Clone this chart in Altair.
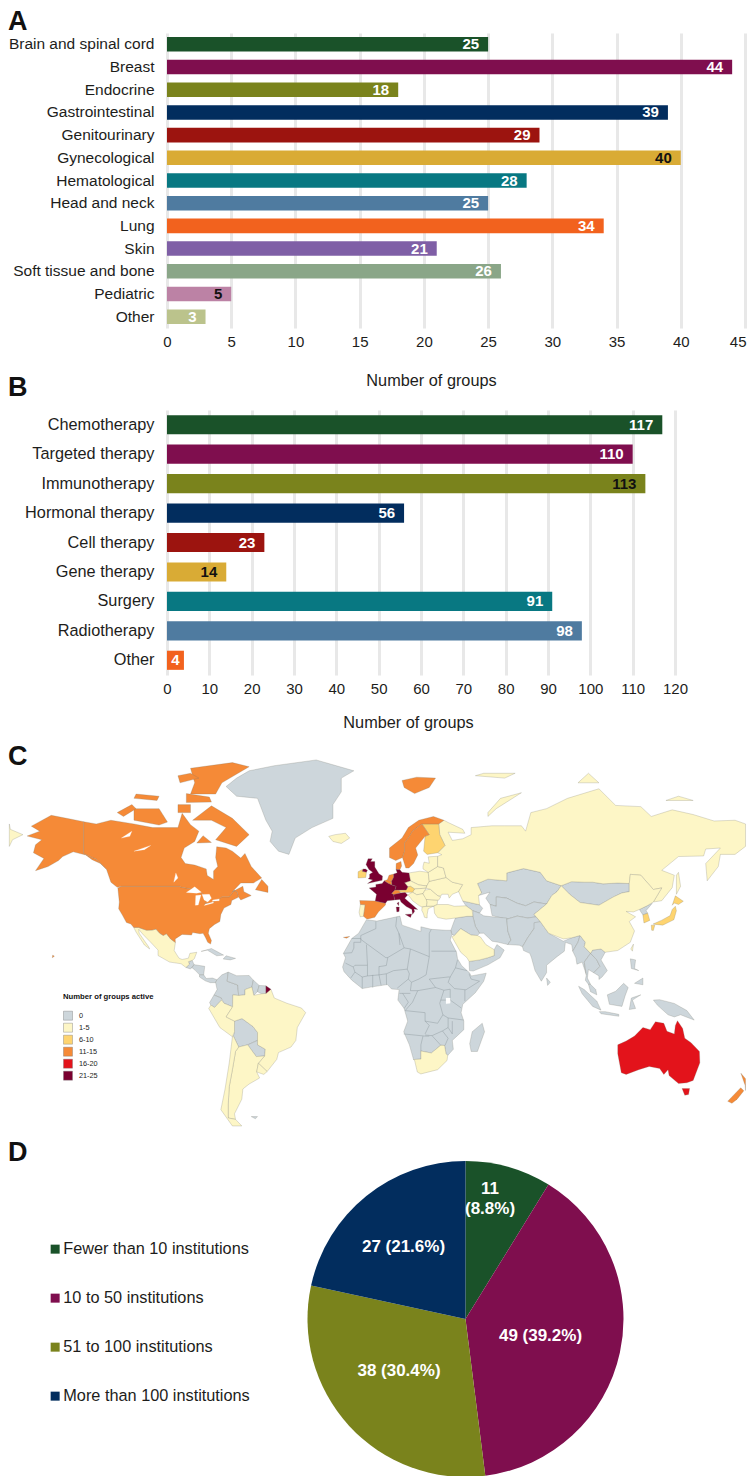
import math
import altair as alt

FONT = "Liberation Sans"
TXT = "#1d1d1b"

# ---------- panel A ----------
a_cats = ["Brain and spinal cord", "Breast", "Endocrine", "Gastrointestinal", "Genitourinary",
          "Gynecological", "Hematological", "Head and neck", "Lung", "Skin",
          "Soft tissue and bone", "Pediatric", "Other"]
a_vals = [25, 44, 18, 39, 29, 40, 28, 25, 34, 21, 26, 5, 3]
a_cols = ["#1A5229", "#7F0E4E", "#7A831C", "#022D5E", "#9C140F", "#D9AB35", "#087882",
          "#4F7BA0", "#F2621E", "#7F5FA6", "#8AA688", "#BC82A5", "#BBC38C"]
a_txt = ["white", "white", "white", "white", "white", "#111111", "white", "white", "white",
         "white", "white", "#111111", "white"]

# ---------- panel B ----------
b_cats = ["Chemotherapy", "Targeted therapy", "Immunotherapy", "Hormonal therapy", "Cell therapy",
          "Gene therapy", "Surgery", "Radiotherapy", "Other"]
b_vals = [117, 110, 113, 56, 23, 14, 91, 98, 4]
b_cols = a_cols[:9]
b_txt = ["white", "white", "#111111", "white", "white", "#111111", "white", "white", "white"]

# ---------- panel D ----------
d_cats = ["Fewer than 10 institutions", "10 to 50 institutions", "51 to 100 institutions",
          "More than 100 institutions"]
d_vals = [11, 49, 38, 27]
d_cols = ["#1A5229", "#7F0E4E", "#7A831C", "#022D5E"]
d_labels = [["11", "(8.8%)"], "49 (39.2%)", "38 (30.4%)", "27 (21.6%)"]

# ---------- panel C: coarse country outlines in lon/lat ----------
map_bins = ["0", "1-5", "6-10", "11-15", "16-20", "21-25"]
map_cols = ["#CDD6DB", "#FDF6C6", "#FED470", "#F58A37", "#E3131B", "#7A0030"]

orange = {
 "usa": [(-124.7,48.4),(-123,49),(-95.2,49),(-94.6,48.7),(-89.6,48),(-84.8,46.5),(-82.5,45.3),(-82.4,43),(-83.1,42.2),(-79,42.8),(-79,43.3),(-76.5,44),(-75,45),(-71.5,45),(-69.2,47.4),(-67.8,47),(-67,44.9),(-70.3,43.6),(-70.7,42),(-74,40.6),(-75.5,38),(-76,35),(-78.5,33.8),(-81,32),(-81.5,30),(-80,26.8),(-80.4,25.2),(-81.8,26),(-82.8,28),(-84,30),(-85.5,29.8),(-89,30.3),(-89.5,29.2),(-94,29.5),(-97.3,27.5),(-97.2,25.9),(-99.5,27.5),(-101.5,29.8),(-103,29),(-104.7,30),(-106.5,31.8),(-108.2,31.4),(-111,31.3),(-114.8,32.5),(-117.1,32.5),(-118.5,34),(-120.6,34.6),(-122.4,37.5),(-124.3,40.3),(-124,43)],
 "alaska": [(-141,69.6),(-141,60.3),(-137,59),(-135,58.5),(-130,55),(-133,57),(-137,58.3),(-140,59.8),(-146,60.8),(-151,59.3),(-153,58),(-158,56),(-164,54.6),(-160,58.7),(-165,60.5),(-164,63),(-161,64.5),(-168,65.6),(-162,67),(-166,68.4),(-156.5,71.3),(-148,70.4)],
 "canada": [(-141,69.6),(-135,69),(-128,70),(-117,69),(-108,68),(-96,68),(-94,71.8),(-90,68.8),(-86,67),(-88,64),(-93,62),(-94.5,59),(-92.5,57),(-88,56.5),(-82.5,55.2),(-82,52.9),(-79,51.5),(-79,54.5),(-77,56),(-78,59),(-77.5,62.4),(-73,62),(-70,61),(-66,58.8),(-64,60.3),(-61,56),(-56,52),(-60,50.2),(-66,50.2),(-70,47),(-65,49),(-64.5,47),(-61,45.5),(-66,43.8),(-67,44.9),(-67.8,47),(-69.2,47.4),(-71.5,45),(-75,45),(-76.5,44),(-79,43.3),(-79,42.8),(-83.1,42.2),(-82.4,43),(-82.5,45.3),(-84.8,46.5),(-89.6,48),(-94.6,48.7),(-95.2,49),(-123,49),(-125,48.6),(-128,50.5),(-130,54.8),(-130,55),(-135,58.5),(-137,59),(-141,60.3)],
 "baffin": [(-62,66),(-68,62.5),(-78,64.5),(-73,68),(-80,70),(-89,70),(-80,73.7),(-70,70.5)],
 "victoria": [(-117,70),(-105,68.7),(-101,69.5),(-105,73),(-117,73)],
 "banks": [(-125,72),(-118,74),(-116,73),(-122,71)],
 "ellesmere": [(-90,76.5),(-78,76.5),(-75,79),(-62,82.3),(-70,83.1),(-90,82),(-88,79)],
 "devon": [(-92,74.5),(-80,74.6),(-81,75.8),(-92,76.6)],
 "melville": [(-117,75.5),(-106,75),(-105,76),(-116,76.5)],
 "heiberg": [(-95,79),(-86,80),(-90,81),(-96,80.5)],
 "somerset": [(-96,72),(-90,72),(-90,74),(-96,74)],
 "newfoundland": [(-59,47.7),(-53,46.7),(-53,49),(-56,51.5)],
 "southampton": [(-87,63.5),(-80,63.7),(-84,65.7)],
 "hawaii": [(-156,19),(-155,19.7),(-155.8,20.2)],
 "spain": [(-9.2,43.6),(-8.9,42),(-6.6,41.9),(-7,39.6),(-7.4,37.2),(-6,36.2),(-5.3,36.1),(-2,36.8),(-0.3,39),(3.1,41.8),(3.1,42.5),(-1.8,43.4)],
 "canary": [(-17,28.2),(-14,28.6),(-15.5,27.8)],
 "belgium": [(2.5,51),(4.5,50),(6.2,49.5),(6,50.8),(4,51.4)],
 "netherlands": [(4,51.4),(6,50.8),(7,52.3),(7,53.4),(4.8,53)],
 "denmark": [(8.1,55),(10,54.9),(10.8,56.2),(10.5,57.7),(8.2,57)],
 "switzerland": [(6,46.3),(7,45.9),(10.3,46.5),(9.6,47.5),(7.6,47.6)],
 "norway": [(5,59),(5,62),(11,65),(14,68),(19,70),(26,71),(31,70),(28.5,69),(25,69),(20.5,69),(16,67),(14,65),(12.2,63.5),(12.2,61),(11.2,59),(8,58)],
 "sweden": [(11.2,59),(12.2,61),(12.2,63.5),(14,65),(16,67),(20.5,69),(24,66),(22,65.5),(17.5,62),(18.5,59.8),(16.5,57),(14.3,55.5),(12.8,55.5)],
 "svalbard": [(12,78),(17,76.6),(24,78),(27,80),(18,80.2),(11,79.5)],
 "nz_n": [(172.8,-34.5),(175.7,-36.8),(178.4,-37.7),(176.9,-39.5),(175.2,-41.6),(174.8,-39.5)],
 "nz_s": [(172.7,-40.5),(174.2,-41.7),(171,-45),(168.5,-46.6),(166.5,-45.8)],
}
maroon = {
 "uk": [(-5.5,50),(1.5,51.2),(1.7,52.7),(0,53.5),(-2,55.8),(-2,57.7),(-4,57.7),(-3.2,58.6),(-5.2,58.6),(-6.2,56.7),(-4.8,55),(-3,54),(-4.5,53.3),(-4.5,52.2),(-5.2,51.7),(-3,51.3)],
 "n_ireland": [(-8,54.4),(-6,54),(-5.5,54.7),(-6.5,55.2),(-7.5,55.2)],
 "france": [(-1.8,43.4),(3.1,42.5),(4,43.5),(7.5,43.8),(7,45.9),(6,46.3),(7.6,47.6),(8.2,49),(6.2,49.5),(4.5,50),(2.5,51),(1.5,50),(-1.5,49.7),(-1.5,48.7),(-4.7,48.4),(-1.2,46)],
 "corsica": [(8.6,42.5),(9.5,43),(9.4,41.5)],
 "germany": [(6,50.8),(6.2,49.5),(8.2,49),(7.6,47.6),(13,47.6),(13.8,48.8),(12.2,50.3),(15,51),(14.3,53.8),(11,54),(10,54.9),(8.1,55),(8.7,53.9),(7,53.4),(7,52.3)],
 "italy": [(7,45.9),(7.5,43.8),(10,44),(10.5,43),(13,41.2),(15.7,40),(16,38),(17,39.2),(16.7,40.2),(18.5,40),(16,41.8),(13.6,43.5),(12.3,44.5),(13.7,45.7),(12.5,46.7),(10.3,46.5)],
 "sicily": [(12.5,38),(15.6,38.2),(15.1,36.7)],
 "sardinia": [(8.2,41),(9.7,41),(9.6,39.2),(8.5,39)],
 "fr_guiana": [(-54,2.2),(-51.6,4.2),(-54,5.8)],
}
mid = {
 "ireland": [(-10,52),(-6.3,52.2),(-6,54),(-8,54.4),(-7.5,55.2),(-10,54.2)],
 "finland": [(20.5,69),(25,69),(28.5,69),(29,66),(31.5,62.8),(28,60.5),(23,60),(21.3,61),(22,65.5),(24,66)],
 "austria": [(9.6,47.5),(10.3,46.8),(12.5,46.7),(16,46.8),(17,48),(15,49),(13.8,48.8),(13,47.6)],
 "honshu": [(130.9,34),(135,35.6),(139,37.5),(140,40),(141.5,41.3),(142,39.5),(140.8,35.8),(139,35),(135.5,33.5),(132,33.8)],
 "kyushu": [(130,33.5),(131.7,33.5),(131,31.2),(130.2,31.3)],
 "hokkaido": [(140,41.7),(141.5,45.4),(145.3,43.3),(143,42),(141,42.6)],
 "s_korea": [(126,37.8),(128.3,38.5),(129.3,35.5),(126.5,34.4)],
}
red = {
 "australia": [(114,-22),(114,-26),(115.7,-34.3),(118,-35),(124,-33),(129,-31.6),(134,-32.5),(136,-35),(138,-33),(138.5,-35.5),(143,-38.8),(147,-38.5),(150,-37.5),(153.2,-30),(153,-25),(149,-21),(146,-19),(145,-14.5),(142.5,-10.8),(141.5,-13),(141,-17),(137.5,-15.8),(136,-12),(132,-11.3),(129.5,-15),(126,-14),(122,-18),(118,-20.3)],
 "tasmania": [(144.7,-40.8),(148.3,-40.8),(147.8,-43.2),(146,-43.5)],
}
pale = {
 "iceland": [(-24,65.5),(-22,64),(-18,63.4),(-14,65),(-16,66.4),(-21,66)],
 "mexico": [(-117.1,32.5),(-114.8,32.5),(-111,31.3),(-108.2,31.4),(-106.5,31.8),(-104.7,30),(-103,29),(-101.5,29.8),(-99.5,27.5),(-97.2,25.9),(-97.8,22.3),(-95.5,18.8),(-94,18.2),(-91,18.8),(-90.3,21),(-87,21.5),(-88.2,18.5),(-89.1,17.8),(-91,17.2),(-90.5,16),(-92.2,14.5),(-94.5,16.2),(-100,17),(-105.5,20),(-105.5,22.5),(-109,26),(-112.7,29.5),(-114.7,31.7),(-114.5,30),(-110,24),(-109.5,23),(-112,24.8),(-116,30.5)],
 "peru": [(-80.3,-3.4),(-78.5,-4.5),(-75.2,-1),(-74,-2.5),(-69.9,-4.2),(-73,-9),(-69,-11),(-69,-16),(-70,-18.3),(-76,-14),(-81.3,-5)],
 "brazil": [(-69.9,-4.2),(-69.8,1.5),(-67,1.2),(-64,1.5),(-64,4),(-60.7,5.2),(-59.8,1.3),(-56,2),(-54,2.2),(-51.6,4.2),(-50,0),(-44,-2.5),(-37,-4.8),(-35,-7),(-39,-14),(-39.7,-20),(-42,-23),(-48,-25.5),(-48.8,-28.5),(-53.4,-33.8),(-57.6,-30.2),(-54.6,-27),(-54.3,-24),(-58,-22),(-58,-16.3),(-60.2,-13.5),(-65.4,-9.8),(-69,-11),(-73,-9)],
 "argentina": [(-67,-23),(-62.7,-22),(-58.6,-27.3),(-54.6,-27),(-57.6,-30.2),(-58.4,-34),(-57,-36.5),(-62,-39),(-65,-41),(-65.5,-45),(-69,-50.5),(-68.5,-52.5),(-72,-52),(-72,-47),(-71.5,-40),(-70,-33),(-68.5,-25)],
 "chile": [(-70,-18.3),(-69.5,-18),(-67,-23),(-68.5,-25),(-70,-33),(-71.5,-40),(-72,-47),(-72,-52),(-68.5,-52.5),(-65.5,-54.8),(-70,-54.8),(-75.5,-49),(-73.5,-41),(-71.5,-30)],
 "uruguay": [(-57.6,-30.2),(-53.4,-33.8),(-55,-35),(-58.4,-34)],
 "portugal": [(-8.9,42),(-6.6,41.9),(-7,39.6),(-7.4,37.2),(-9,37),(-9.5,38.8)],
 "poland": [(14.3,53.8),(15,51),(19,49.5),(22.8,49.1),(24,50.8),(23.5,54),(19.5,54.4)],
 "czech_slovakia": [(12.2,50.3),(13.8,48.8),(15,49),(17,48),(22.5,48.3),(22.8,49.1),(19,49.5),(15,51)],
 "hungary": [(16,46.8),(17,48),(22.5,48.3),(22,47.6),(21,46.2),(18,45.8)],
 "balkans": [(13.7,45.7),(16,46.8),(18,45.8),(21,46.2),(22.5,44.5),(23,43),(22.7,41.3),(20.6,41),(19.3,41.5),(16,43.5),(14.5,45.2)],
 "greece": [(20.4,39.7),(20.6,41),(22.7,41.3),(26.2,41.4),(23.5,40.3),(23,38),(23,36.5),(21.7,36.8),(21.2,38.3)],
 "bulgaria": [(22.7,41.3),(23,43),(22.5,44),(28,43.7),(27.8,42),(26.2,41.4)],
 "romania": [(21,46.2),(22,47.6),(24.5,47.9),(28,45.5),(29.5,45),(28.5,43.7),(22.5,44)],
 "ukraine": [(22.5,48.3),(22.8,49.1),(24,50.8),(32,52.2),(35,50.5),(40,49.6),(38,47),(35,46),(33.5,44.5),(33,46),(30,46),(29.5,45.3),(28,45.5),(24.5,47.9)],
 "belarus": [(23.5,54),(24,50.8),(32,52.2),(30.8,55.5),(28,56)],
 "baltics": [(21,56),(21.5,57.5),(24,57.1),(23.5,59.2),(28,59.4),(28,56),(23.5,54),(21,55.2)],
 "russia": [(28,56),(30.8,55.5),(32,52.2),(35,50.5),(40,49.6),(38,47),(40,43.4),(48,41.9),(47.5,45.5),(49,46.5),(47,50),(52,51.6),(61,51),(61,53.8),(69,55.3),(77,54),(80,51),(87,49.2),(92,50.7),(98,50.5),(102,50.5),(107,49.9),(114,50.2),(119.5,50),(120,53.3),(125,53),(131,47.8),(135,48.4),(131,43),(135,43.5),(140,48.5),(141,53),(135,54.7),(143,59.3),(155,59.5),(156,61.7),(163,62),(156,57),(156.7,51),(162,56),(163,60),(170,60),(179.9,62.5),(179.9,69),(170,70),(160,69.8),(150,71.5),(140,72.7),(130,71),(125,73.5),(113,73.8),(105,77.7),(90,75.5),(80,73),(72.5,72),(70,67),(68,68.5),(60,68.5),(54,68.5),(44,68),(44,66),(40,64.8),(35,64.3),(33,66.7),(41,66.4),(40,67.5),(33,69.4),(31,70),(28.5,69),(29,66),(31.5,62.8),(28,60.5),(30,59.9),(28,59.4)],
 "chukotka_w": [(-179.9,62.5),(-175,64.5),(-170,66),(-176,67.5),(-179.9,69)],
 "novaya": [(52,71),(56,73),(68,76.8),(58,75.5),(52,72)],
 "sakhalin": [(142,46),(144,49),(143,54),(142,53)],
 "severnaya": [(95,79),(105,79),(100,81)],
 "new_siberia": [(137,75),(150,75),(143,76)],
 "franz_josef": [(46,80.5),(60,80),(65,81),(50,81)],
 "turkey": [(26.2,41.4),(28,42),(33,42),(36,41.3),(41.5,41.5),(44.5,39.7),(44.8,37.2),(42,37.2),(36.5,36.5),(32,36),(28,36.7),(26.5,38.5)],
 "saudi": [(36,29),(39,32),(44,29.2),(47,29),(48.5,28.3),(51,25),(55,22.7),(55,20),(52,19),(48,18),(43,17.3),(42,19),(39,21.5),(36,26.5),(34.8,28.5)],
 "china": [(74,38),(80,42.2),(82.5,45.5),(85,47),(87,49.2),(91,46),(96,42.8),(105,41.7),(112,45),(116,46.5),(119.5,47),(119.5,50),(120,53.3),(125,53),(131,47.8),(135,48.4),(131,43),(128,41.5),(124.3,40),(121.5,39),(118,39.2),(122.5,37),(119.5,35),(122,31),(120,26),(114,22.3),(108,21.5),(106,23),(102,22.5),(101,21),(98,24),(98.5,26),(96,29),(92,28),(88,27.5),(81,30),(79,32.5),(77,35),(75,37)],
 "taiwan": [(120.2,23),(121.5,25.2),(121,22)],
 "south_africa": [(16.5,-28.6),(20,-28.4),(20,-24.8),(25,-25.7),(29.5,-22.2),(31.3,-22.3),(32,-26),(32.8,-26.8),(32.5,-29),(28,-33),(20,-34.8),(18.3,-34),(17,-29)],
}
grey = {
 "greenland": [(-73,78.2),(-68,76),(-58,75.5),(-54,70),(-51,67),(-52,64),(-48,61),(-43,60),(-40,65),(-32,68),(-22,70.5),(-22,74),(-18,77),(-18,80),(-12,81.5),(-30,83.6),(-50,82.5),(-62,81.5),(-68,80)],
 "guatemala": [(-92.2,14.5),(-90.5,16),(-91,17.2),(-89.2,17.8),(-88.3,15.8),(-89.3,14.4),(-90.1,13.8)],
 "honduras_nic": [(-89.3,14.4),(-88.3,15.8),(-83.2,15),(-83.7,11),(-85.7,11),(-87.6,13)],
 "cr_panama": [(-85.7,11),(-83.7,11),(-82.5,9.3),(-79.5,9.5),(-77.4,8.7),(-78,7.3),(-80.5,7.3),(-83,8.2),(-85.7,10)],
 "cuba": [(-84.9,21.9),(-80,23.2),(-74.2,20.2),(-77.5,19.9),(-82,22.5)],
 "hispaniola": [(-74.4,18.4),(-73,19.9),(-68.5,18.7),(-71,18)],
 "colombia": [(-77.4,8.7),(-75,11),(-72,12.3),(-72.5,8),(-67.5,6.2),(-67,1.2),(-69.8,1.5),(-69.9,-4.2),(-74,-2.5),(-75.3,0),(-78.8,1.4),(-77.3,4),(-78,7.3)],
 "venezuela": [(-72,12.3),(-68,10.6),(-62,10.7),(-60,8.5),(-60.7,5.2),(-64,4),(-64,1.5),(-67,1.2),(-67.5,6.2),(-72.5,8)],
 "guyana": [(-60,8.5),(-57.2,6),(-58,3),(-59.8,1.3),(-60.7,5.2)],
 "suriname": [(-57.2,6),(-54,5.8),(-54,2.2),(-56,2),(-58,3)],
 "ecuador": [(-80.9,-2.2),(-78.8,1.4),(-75.3,0),(-75.2,-1),(-78.5,-4.5),(-80.3,-3.4)],
 "bolivia": [(-69,-11),(-65.4,-9.8),(-60.2,-13.5),(-58,-16.3),(-58,-20),(-62.7,-22),(-67,-23),(-69.5,-18),(-69,-16)],
 "paraguay": [(-58,-20),(-58,-22),(-54.3,-24),(-54.6,-27),(-58.6,-27.3),(-62.7,-22)],
 "falklands": [(-61,-51.5),(-58,-51.5),(-59,-52.3)],
 "caucasus": [(40,43.4),(48,41.9),(49.5,40.5),(48,38.5),(44.8,39.5),(44.5,39.7),(41.5,41.5)],
 "kazakhstan": [(47.5,45.5),(49,46.5),(47,50),(52,51.6),(61,51),(61,53.8),(69,55.3),(77,54),(80,51),(87,49.2),(85,47),(82.5,45.5),(80,42.2),(74,43),(70,41.5),(66,42.5),(61,44.5),(56,45),(56,41.3),(53,42),(51,44.5),(53,46.8)],
 "central_asia": [(53,42),(56,41.3),(56,45),(61,44.5),(66,42.5),(70,41.5),(74,43),(80,42.2),(74,38),(75,37),(71,36.5),(66,37.3),(61,36),(54,37.5)],
 "iran": [(44.8,39.5),(48,38.5),(50,37.4),(54,37),(61,36.5),(61.5,31),(63,27),(61.5,25),(57,26),(54,26.5),(50,30),(48,30),(46,33),(44.8,37.2)],
 "iraq_syria": [(36.5,36.5),(42,37.2),(44.8,37.2),(46,33),(48,30),(47,29),(44,29.2),(39,32),(36,29),(34.8,29.5),(34.3,31.3),(35.8,35)],
 "yemen_oman": [(43,17.3),(48,18),(52,19),(55,20),(55,22.7),(56.3,25),(59.8,22.5),(57.8,19),(52,15.7),(45,12.8),(43.2,13)],
 "afg_pak": [(61,36),(66,37.3),(71,36.5),(75,37),(77,35),(74,32),(71,28),(68.5,24),(67,24.7),(61.5,25),(63,27),(61.5,31)],
 "india": [(74,34.5),(77,35),(79,32.5),(81,30),(88,26.5),(92,28),(96,29),(95,26),(92.5,22),(92,25),(89,26),(88.5,22),(85,19.5),(80,15.5),(80,12),(77.5,8),(74.5,13),(72.8,19),(72,21),(69,22.3),(68.5,24),(71,28),(74,32)],
 "sri_lanka": [(80,9.5),(81.8,7.5),(80.5,6)],
 "myanmar": [(92.5,22),(95,26),(96,29),(98.5,26),(98,24),(101,21),(98,17),(99,11),(97,17),(94.5,16),(94,19)],
 "thailand": [(98,17),(101,21),(104,18),(105.5,15),(102.5,12),(100,13.5),(99.5,9.5),(101,6.5),(100,6.5),(98.5,8.5),(99,11)],
 "indochina": [(101,21),(102,22.5),(106,23),(108,21.5),(106,18),(109,13),(106.5,10),(105,8.8),(105,10.5),(102.5,12),(105.5,15),(104,18)],
 "malaya": [(100,6.5),(101,6.5),(103.5,4),(104,1.5),(101,3)],
 "sumatra": [(95.3,5.6),(98,4),(104,-1.5),(106,-5.8),(102,-4),(97,2)],
 "java": [(105.2,-6.5),(108,-6.5),(114.5,-7.8),(114.5,-8.7),(106,-7.5)],
 "borneo": [(109,1.5),(113,3.2),(116.8,7),(119,5),(117.5,1),(116,-4),(110,-3)],
 "sulawesi": [(119.5,-5.5),(120.5,0),(125,1.5),(121,-1),(122.5,-5)],
 "new_guinea": [(131,-1),(134,-0.8),(141,-2.6),(147,-6),(150.5,-10.5),(144,-8),(141,-9),(138,-8),(133,-3.5)],
 "luzon": [(120,18.5),(122.5,18),(122,14),(124,13),(120.5,14)],
 "mindanao": [(122,7),(126,9.5),(126,6.3)],
 "mongolia": [(87,49.2),(92,50.7),(98,50.5),(102,50.5),(107,49.9),(114,50.2),(119.5,50),(119.5,47),(116,46.5),(112,45),(105,41.7),(96,42.8),(91,46)],
 "n_korea": [(124.3,40),(128,41.5),(130.5,42.5),(127.5,39.5),(128.3,38.5),(126,37.8)],
 "africa": [(-6,35.8),(-1,35.2),(10,37.3),(11,33.5),(15,32.3),(20,30.8),(20,32.8),(25,31.7),(32,31.3),(34.3,31.3),(34.8,29.5),(34,27),(37,21.5),(37.5,18.5),(39.5,15.3),(43.2,12),(44,10.5),(51.2,11.8),(50,8),(46,2.5),(40,-3),(39.2,-7),(40.5,-11),(40.5,-15),(35,-20),(35.5,-24),(32.8,-26.8),(32,-26),(31.3,-22.3),(29.5,-22.2),(25,-25.7),(20,-24.8),(20,-28.4),(16.5,-28.6),(14.5,-22),(11.8,-16),(13.7,-11),(12,-5),(9,-1),(9.6,4),(6,4.3),(4,6.4),(-4,5.2),(-8,4.5),(-13,8.5),(-16.7,12.5),(-17.4,14.7),(-16,19),(-17,21),(-13,27.7),(-9.7,30)],
 "lesotho": [(27.5,-30),(29.2,-29),(28.5,-30.5)],
 "madagascar": [(49.3,-12),(50.4,-16),(47,-25),(44,-25),(43.3,-21.5),(44.5,-16)],
}
lakes = {
 "superior": [(-92,46.7),(-88,48.8),(-84.8,46.8),(-87,46.4)],
 "michigan": [(-87.7,41.7),(-86.3,41.8),(-85,45.7),(-87.5,45.5)],
 "huron": [(-84.5,45.9),(-81,46),(-80,44.5),(-81.8,43),(-83.5,43.8)],
 "erie": [(-83.4,41.6),(-79,42.6),(-79.2,43),(-83,42.1)],
 "ontario": [(-79.7,43.3),(-76.3,43.5),(-76.3,44.2),(-79.3,43.8)],
 "great_bear": [(-123,65),(-118,67),(-119,65.5)],
 "great_slave": [(-117,61),(-109,62.8),(-112,61.5)],
 "winnipeg": [(-98,50.5),(-97,53.8),(-96,52)],
 "victoria_l": [(32,-2.7),(34,-2.5),(34,0),(32,0)],
}
africa_borders = [
 [(-13,27.7),(-8.7,27.7),(-8.7,26),(-12,26),(-12,23.4),(-13,21.3),(-17,21)],
 [(-8.7,27.3),(3.3,19),(4.2,19.1),(12,23.5),(9.5,30),(8,33),(8.5,37)],
 [(-1.5,35),(-1.5,32),(-8.7,29),(-8.7,27.3)],
 [(-6,25),(-5.5,15.5),(-11.5,15.5),(-12.3,14.7),(-16,16.5)],
 [(4.2,19.1),(3.5,15.4),(1,15),(0,14.9)],
 [(-5.5,10.5),(0,11),(3.5,11.5),(3.6,6.3)],
 [(0,15),(0,11),(1,6)],
 [(-3,11),(-3,5)],
 [(-8,10),(-8,4.5)],
 [(-5.5,15.5),(-5.5,10.5),(-8,10),(-11.5,12.3),(-12.3,14.7)],
 [(-13.5,9.5),(-11.5,12.3)],
 [(3.5,11.5),(7,13),(13.5,13.7),(14.5,11.5),(14,9),(8.7,4.7)],
 [(9.5,30),(10,24.8)],
 [(12,23.5),(15,23),(24,19.5),(24,30),(25,31.7)],
 [(15,23),(13.5,13.7)],
 [(24,19.5),(22.5,11),(19,9),(15.5,7.5),(14,9)],
 [(25,22),(37,22)],
 [(37.5,18),(36.5,14.3),(34,10),(33,7.5),(36,4.5),(41.5,3.9),(48,8),(44,9),(43,11.5)],
 [(36.5,14.3),(42,13)],
 [(24,9),(33,10),(34,10)],
 [(24,9),(27,5),(31,3.7),(34,4.2)],
 [(15.5,7.5),(15,3.5),(18.5,3.5),(27,5)],
 [(9.8,2.2),(15,2.2)],
 [(11.3,2.2),(14,-2),(12,-5)],
 [(18.5,3.5),(16,-2),(12.5,-6),(22,-7),(22,-11),(28,-12),(30.5,-8),(29,-2.5),(31,3.7)],
 [(11.8,-17),(22,-18),(24,-18)],
 [(22,-11),(24,-13),(22,-17)],
 [(20,-24.8),(20,-22),(21,-18)],
 [(22,-17.5),(25.3,-17.8),(30.3,-15.6),(33,-14),(33,-9.5),(30.5,-8)],
 [(25.3,-17.8),(29.5,-22.2)],
 [(30.3,-15.6),(33,-19),(31.5,-22.3)],
 [(29.5,-1),(34,-1),(39.2,-4.7)],
 [(33,-9.5),(40.5,-10.5)],
 [(34,4.2),(34,-1)],
 [(41,3.9),(41,-1.5)],
 [(33,-14),(35,-17),(35,-11)],
]

LON_MIN, LON_MAX = -176.5, 175.0   # the page's margins leave no room for the last few degrees


def miller(pt):
    lon, lat = pt
    lon = max(LON_MIN, min(LON_MAX, lon))
    y = 1.25 * math.log(math.tan(math.pi / 4 + 0.4 * math.radians(lat)))
    return [math.radians(lon), y]


def poly_features(group, cat):
    out = []
    for ring in group.values():
        pts = [miller(p) for p in ring]
        pts.append(pts[0])
        out.append({"type": "Feature", "properties": {"cat": cat},
                    "geometry": {"type": "Polygon", "coordinates": [pts]}})
    return out


land = (poly_features(grey, "0") + poly_features(pale, "1-5") + poly_features(mid, "6-10")
        + poly_features(orange, "11-15") + poly_features(red, "16-20") + poly_features(maroon, "21-25"))
water = poly_features(lakes, "water")
border_lines = [{"type": "Feature", "properties": {"cat": "border"},
                 "geometry": {"type": "MultiLineString",
                              "coordinates": [[miller(p) for p in line] for line in africa_borders]}}]

LEFT = 159   # distance from plot origin to the left edge of the svg


def letter(ch, y):
    return alt.Chart(alt.Data(values=[{"t": ch}])).mark_text(
        align="left", baseline="top", font=FONT, fontWeight="bold", fontSize=27, color="#111111"
    ).encode(x=alt.value(-LEFT), y=alt.value(y), text="t:N")


def bars(cats, vals, cols, txt, xmax, step, w, h, pad, title_x, title_y, ylab, ch, ch_y, centred_below):
    rows = [{"c": c, "v": v, "mid": v / 2, "col": k, "tc": t}
            for c, v, k, t in zip(cats, vals, cols, txt)]
    inside = alt.Data(values=[r for r in rows if r["v"] >= centred_below])
    small = alt.Data(values=[r for r in rows if r["v"] < centred_below] or [])
    # the last tick label of panel A has to stay inside the page's right margin
    last = f"datum.value == {xmax} && {xmax} == 45"
    x = alt.X("v:Q", scale=alt.Scale(domain=[0, xmax], nice=False),
              axis=alt.Axis(values=list(range(0, xmax + 1, step)), grid=True, gridColor="#E8E8E8",
                            gridWidth=3, domain=False, ticks=False, labelFont=FONT, labelFontSize=15,
                            labelColor=TXT, labelPadding=6, labelFlush=False, labelOverlap=False,
                            labelAlign=alt.condition(last, alt.value("right"), alt.value("center")),
                            labelOffset=alt.condition(last, alt.value(1), alt.value(0)),
                            title="Number of groups", titleFont=FONT,
                            titleFontSize=16.3, titleFontWeight="normal", titleColor=TXT,
                            titleX=title_x, titleY=title_y, titleAlign="center", titleBaseline="middle"))
    y = alt.Y("c:N", sort=cats, scale=alt.Scale(paddingInner=pad, paddingOuter=pad / 2),
              axis=alt.Axis(domain=False, ticks=False, grid=False, title=None, labelFont=FONT,
                            labelFontSize=ylab, labelColor=TXT, labelPadding=13, labelLimit=300))
    b = alt.Chart(alt.Data(values=rows)).mark_bar(cornerRadius=0).encode(
        x=x, y=y, color=alt.Color("col:N", scale=None))
    t = alt.Chart(inside).mark_text(align="right", dx=-9, font=FONT, fontWeight="bold", fontSize=15).encode(
        x="v:Q", y=alt.Y("c:N", sort=cats), text="v:Q", color=alt.Color("tc:N", scale=None))
    layers = [b, t]
    if any(r["v"] < centred_below for r in rows):
        layers.append(alt.Chart(small).mark_text(align="center", font=FONT, fontWeight="bold", fontSize=15).encode(
            x="mid:Q", y=alt.Y("c:N", sort=cats), text="v:Q", color=alt.Color("tc:N", scale=None)))
    layers.append(letter(ch, ch_y))
    return alt.layer(*layers).properties(width=w, height=h)


panel_a = bars(a_cats, a_vals, a_cols, a_txt, 45, 5, 578, 295, 0.36, 264, 52, 15.5, "A", -24, 0)
panel_b = bars(b_cats, b_vals, b_cols, b_txt, 120, 10, 508, 265, 0.35, 241, 47, 16.3, "B", -35, 5)

PROJ = dict(type="identity", scale=120, translate=[212, 241], reflectY=True)
map_land = alt.Chart(alt.Data(values=land)).mark_geoshape(
    stroke="#77776a", strokeWidth=0.35, strokeOpacity=0.7, clip=False
).encode(color=alt.Color("properties.cat:N",
                         scale=alt.Scale(domain=map_bins, range=map_cols),
                         legend=alt.Legend(orient="none", legendX=-104, legendY=236,
                                           title="Number of groups active", titleFont=FONT,
                                           titleFontSize=7.7, titleFontWeight="bold", titleColor="#111111",
                                           titlePadding=10, labelFont=FONT, labelFontSize=7.3, labelColor=TXT,
                                           symbolType="square", symbolSize=81, symbolStrokeWidth=0.4,
                                           symbolStrokeColor="#777777", rowPadding=0, labelOffset=6,
                                           padding=0))).project(**PROJ)
map_water = alt.Chart(alt.Data(values=water)).mark_geoshape(
    fill="white", stroke="white", strokeWidth=0.2, clip=False).project(**PROJ)
map_lines = alt.Chart(alt.Data(values=border_lines)).mark_geoshape(
    filled=False, stroke="#8C979C", strokeWidth=0.45, clip=False).project(**PROJ)
panel_c = alt.layer(map_land, map_lines, map_water, letter("C", -13)).properties(width=578, height=300)

CX, CY = 298.5, 180
pie_rows = [{"c": c, "v": v, "i": i} for i, (c, v) in enumerate(zip(d_cats, d_vals))]
pie = alt.Chart(alt.Data(values=pie_rows)).mark_arc(outerRadius=158).encode(
    theta=alt.Theta("v:Q", stack=True),
    order=alt.Order("i:Q"),
    x=alt.value(CX), y=alt.value(CY),
    color=alt.Color("c:N", sort=d_cats, scale=alt.Scale(domain=d_cats, range=d_cols),
                    legend=alt.Legend(orient="none", legendX=-120, legendY=102, title=None,
                                      labelFont=FONT, labelFontSize=16.3, labelColor=TXT,
                                      symbolType="square", symbolSize=81, symbolStrokeWidth=0,
                                      rowPadding=32, labelOffset=0, labelLimit=300, padding=0)))


def pie_label(text, dx, dy):
    return alt.Chart(alt.Data(values=[{"t": text}])).mark_text(
        font=FONT, fontWeight="bold", fontSize=17, color="white", dx=dx, dy=dy, lineHeight=20
    ).encode(x=alt.value(CX), y=alt.value(CY), text="t:N")


panel_d = alt.layer(pie,
                    pie_label(d_labels[0], 24.5, -130),
                    pie_label(d_labels[1], 75, 17),
                    pie_label(d_labels[2], -66.5, 52),
                    pie_label(d_labels[3], -62, -72),
                    letter("D", 1)).properties(width=578, height=338)

chart = alt.vconcat(panel_a, panel_b, panel_c, panel_d, spacing=82, bounds="flush").resolve_scale(
    color="independent"
).properties(padding=0).configure_view(stroke=None)

chart.save("out.html", embed_options={"renderer": "svg", "actions": False})
